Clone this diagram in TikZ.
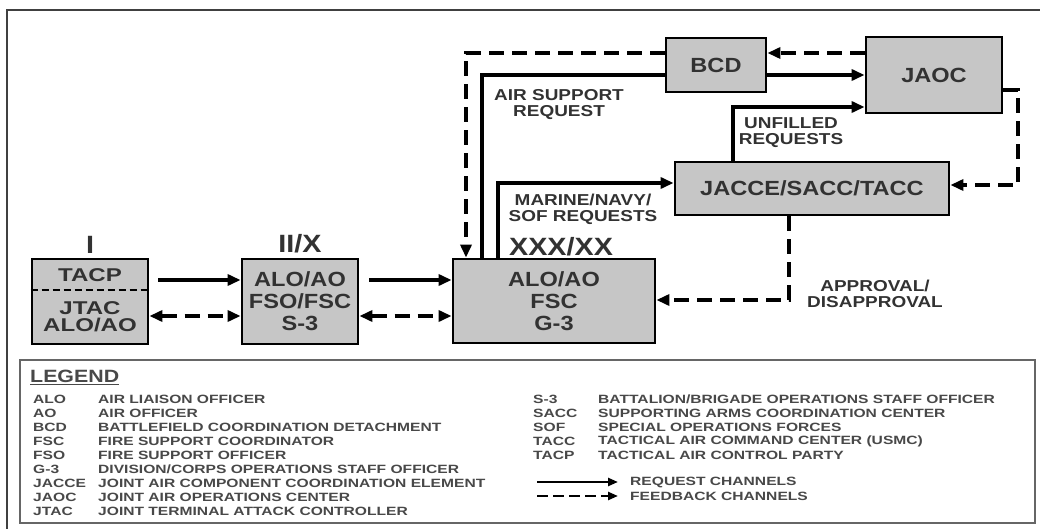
\documentclass[tikz,border=0pt]{standalone}
\usepackage{fontspec}
\setmainfont{Liberation Sans}
\newfontfamily\boxfont[FakeStretch=1.15]{Liberation Sans}
\newfontfamily\labfont[FakeStretch=1.2]{Liberation Sans}
\newfontfamily\legfont[FakeStretch=1.3]{Liberation Sans}
\usepackage{tikz}
\usetikzlibrary{arrows.meta,positioning}
\definecolor{boxgray}{RGB}{198,198,198}
\definecolor{inkgray}{RGB}{50,50,50}
\definecolor{leggray}{RGB}{72,72,72}

\begin{document}
\begin{tikzpicture}[
  x=1pt, y=-1pt,
  >={Triangle[length=13pt,width=11pt]},
  box/.style={draw, line width=2.8pt, fill=boxgray, inner sep=0pt, text=inkgray, align=center, font=\boxfont\bfseries\fontsize{20.5}{22}\selectfont},
  boxtxt/.style={inner sep=0pt, text=inkgray, align=center, font=\legfont\bfseries\fontsize{18.5}{17}\selectfont},
  lvl/.style={inner sep=0pt, text=inkgray, font=\boxfont\bfseries\fontsize{25}{25}\selectfont},
  lab/.style={inner sep=0pt, text=inkgray, align=center, font=\labfont\bfseries\fontsize{15.8}{16}\selectfont},
  leg/.style={inner sep=0pt, anchor=west, text=leggray, font=\legfont\bfseries\fontsize{12}{14}\selectfont},
  req/.style={line width=3.4pt, ->},
  fb/.style={line width=3.4pt, ->, dash pattern=on 15pt off 8pt}
]
\useasboundingbox (0,0) rectangle (1040,529);
\draw[line width=1.5pt, draw=black!75] (7,535) -- (7,10) -- (1045,10);

\node[box, minimum width=116pt, minimum height=85pt] (unit) at (90,301.5) {};
\node[boxtxt] (tacp) at (90,275) {TACP};
\node[boxtxt] (jtac) at (90,317) {JTAC\\ALO/AO};
\draw[line width=1.6pt, dash pattern=on 7pt off 4pt] (unit.west |- 0,290) -- (unit.east |- 0,290);
\node[box, minimum width=116pt, minimum height=85pt] (bn) at (300,301.5) {ALO/AO\\FSO/FSC\\S-3};
\node[box, minimum width=202pt, minimum height=84pt] (div) at (554,301) {ALO/AO\\FSC\\G-3};
\node[box, minimum width=100pt, minimum height=54pt] (bcd) at (716,65) {BCD};
\node[box, minimum width=136pt, minimum height=76pt] (jaoc) at (934,75) {JAOC};
\node[box, minimum width=274pt, minimum height=53pt] (jacce) at (812,188.5) {JACCE/SACC/TACC};

\node[lvl, above=4pt of unit] (lvla) {I};
\node[lvl, above=4pt of bn] (lvlb) {II/X};
\node[lvl] (lvlc) at (561,247) {XXX/XX};

\node[lab] (asr) at (559,105) {AIR SUPPORT\\REQUEST};
\node[lab] (mns) at (583,209.5) {MARINE/NAVY/\\SOF REQUESTS};
\node[lab] (unf) at (791,133) {UNFILLED\\REQUESTS};
\node[lab] (apr) at (875,294) {APPROVAL/\\DISAPPROVAL};

\draw[req, shorten <=9pt] (unit.east |- 0,280) -- (bn.west |- 0,280);
\draw[fb, <->] (unit.east |- 0,316) -- (bn.west |- 0,316);
\draw[req, shorten <=10pt] (bn.east |- 0,280) -- (div.west |- 0,280);
\draw[fb, <->] (bn.east |- 0,316) -- (div.west |- 0,316);
\draw[fb] (bcd.west |- 0,53) -| (div.north -| 466,0);
\draw[line width=3.4pt] (div.north -| 482,0) |- (bcd.west |- 0,75);
\draw[req] (div.north -| 498,0) |- (jacce.west |- 0,183);
\draw[req] (bcd.east |- 0,75) -- (jaoc.west |- 0,75);
\draw[fb] (jaoc.west |- 0,53) -- (bcd.east |- 0,53);
\draw[req] (jacce.north -| 733,0) |- (jaoc.west |- 0,107);
\draw[fb] (jaoc.east |- 0,90) -| (1018,185) -- (jacce.east |- 0,185);
\draw[fb] (jacce.south -| 789,0) |- (div.east |- 0,300);

\node[draw=black!60, line width=1.6pt, inner sep=0pt, minimum width=1015pt, minimum height=163pt] (legbox) at (527.5,441.5) {};
\node[leg, font=\labfont\bfseries\fontsize{17.8}{18}\selectfont] (legh) at (30,377) {\underline{LEGEND}};
\foreach \ab/\txt [count=\i] in {ALO/AIR LIAISON OFFICER, AO/AIR OFFICER, BCD/BATTLEFIELD COORDINATION DETACHMENT, FSC/FIRE SUPPORT COORDINATOR, FSO/FIRE SUPPORT OFFICER, G-3/{DIVISION/CORPS OPERATIONS STAFF OFFICER}, JACCE/JOINT AIR COMPONENT COORDINATION ELEMENT, JAOC/JOINT AIR OPERATIONS CENTER, JTAC/JOINT TERMINAL ATTACK CONTROLLER}
{
  \node[leg] (abl\i) at (33,385+14*\i) {\ab};
  \node[leg] (dsl\i) at (98,385+14*\i) {\txt};
}
\foreach \ab/\txt [count=\i] in {S-3/{BATTALION/BRIGADE OPERATIONS STAFF OFFICER}, SACC/SUPPORTING ARMS COORDINATION CENTER, SOF/SPECIAL OPERATIONS FORCES, TACC/TACTICAL AIR COMMAND CENTER (USMC), TACP/TACTICAL AIR CONTROL PARTY}
{
  \node[leg] (abr\i) at (533,385+14*\i) {\ab};
  \node[leg] (dsr\i) at (598,385+14*\i) {\txt};
}
\node[leg] (rqt) at (630,482) {REQUEST CHANNELS};
\node[leg] (fbt) at (630,496) {FEEDBACK CHANNELS};
\coordinate (rq0) at (537,482);
\coordinate (fb0) at (537,496);
\draw[line width=2.4pt, -{Triangle[length=10pt,width=8pt]}, shorten >=12pt] (rq0) -- (rqt.west);
\draw[line width=2.4pt, -{Triangle[length=10pt,width=8pt]}, dash pattern=on 11pt off 5pt, shorten >=12pt] (fb0) -- (fbt.west);
\end{tikzpicture}
\end{document}
